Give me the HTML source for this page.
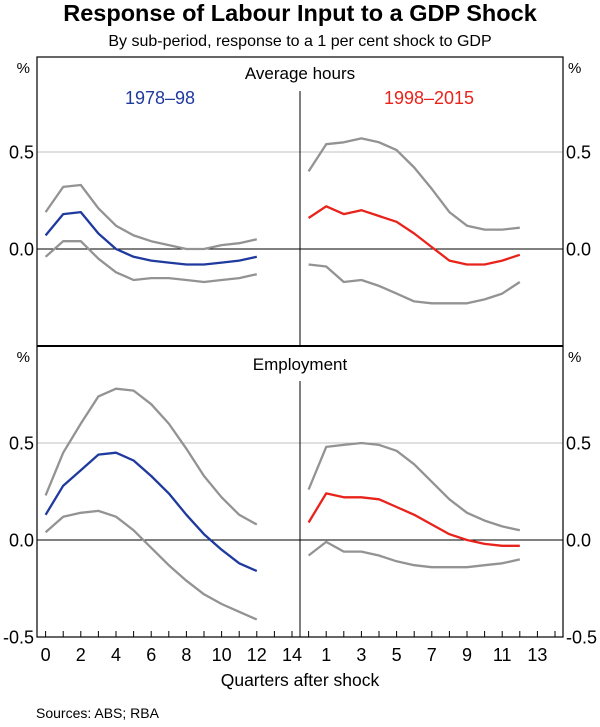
<!DOCTYPE html>
<html><head><meta charset="utf-8"><style>
body{margin:0;background:#fff;font-family:"Liberation Sans",Arial,sans-serif}
svg text{font-family:"Liberation Sans",Arial,sans-serif}
</style></head><body>
<svg id="c" width="600" height="722" viewBox="0 0 600 722">
<text x="300" y="21" text-anchor="middle" font-size="23.5" font-weight="bold">Response of Labour Input to a GDP Shock</text>
<text x="300" y="46" text-anchor="middle" font-size="16">By sub-period, response to a 1 per cent shock to GDP</text>
<g id="g"></g>
<text x="300" y="686" text-anchor="middle" font-size="17.5">Quarters after shock</text>
<text x="36" y="718" font-size="14">Sources:  ABS; RBA</text>
</svg>
<script>
const quarters=[0,1,2,3,4,5,6,7,8,9,10,11,12];
const hoursEarly=[0.07,0.18,0.19,0.08,0.0,-0.04,-0.06,-0.07,-0.08,-0.08,-0.07,-0.06,-0.04];
const hoursEarlyUp=[0.19,0.32,0.33,0.21,0.12,0.07,0.04,0.02,0.0,0.0,0.02,0.03,0.05];
const hoursEarlyLo=[-0.04,0.04,0.04,-0.05,-0.12,-0.16,-0.15,-0.15,-0.16,-0.17,-0.16,-0.15,-0.13];
const hoursLate=[0.16,0.22,0.18,0.20,0.17,0.14,0.08,0.01,-0.06,-0.08,-0.08,-0.06,-0.03];
const hoursLateUp=[0.40,0.54,0.55,0.57,0.55,0.51,0.42,0.31,0.19,0.12,0.10,0.10,0.11];
const hoursLateLo=[-0.08,-0.09,-0.17,-0.16,-0.19,-0.23,-0.27,-0.28,-0.28,-0.28,-0.26,-0.23,-0.17];
const empEarly=[0.13,0.28,0.36,0.44,0.45,0.41,0.33,0.24,0.13,0.03,-0.05,-0.12,-0.16];
const empEarlyUp=[0.23,0.45,0.60,0.74,0.78,0.77,0.70,0.60,0.47,0.33,0.22,0.13,0.08];
const empEarlyLo=[0.04,0.12,0.14,0.15,0.12,0.05,-0.04,-0.13,-0.21,-0.28,-0.33,-0.37,-0.41];
const empLate=[0.09,0.24,0.22,0.22,0.21,0.17,0.13,0.08,0.03,0.0,-0.02,-0.03,-0.03];
const empLateUp=[0.26,0.48,0.49,0.50,0.49,0.46,0.39,0.30,0.21,0.14,0.10,0.07,0.05];
const empLateLo=[-0.08,-0.01,-0.06,-0.06,-0.08,-0.11,-0.13,-0.14,-0.14,-0.14,-0.13,-0.12,-0.10];
const yTicks=[0.5,0.0];
const yTickLabels=["0.5","0.0"];
const leftXLabels=[0,2,4,6,8,10,12,14];
const rightXLabels=[1,3,5,7,9,11,13];

const NS="http://www.w3.org/2000/svg",G=document.getElementById('g');
function mk(t,a,p){const e=document.createElementNS(NS,t);for(const k in a)e.setAttribute(k,a[k]);(p||G).appendChild(e);return e;}
const L=37,M=300,R=563,UNIT=17.6,FS=18;
function xs(half,q){return (half?M:L)+8.6+q*UNIT;}
function ys(panel,v){const z=panel?540:249;return z-v*194;}
[0,1].forEach(p=>{
 yTicks.forEach((t,i)=>{
  const l=mk('line',{x1:L,x2:R,y1:ys(p,t),y2:ys(p,t),stroke:t===0?'#000':'#c0c0c0','stroke-width':1});
  
  
  [[L-3,'end'],[R+3,'start']].forEach(([x,a])=>{
   const tx=mk('text',{x:x,y:ys(p,t)+6.5,'text-anchor':a,'font-size':FS});tx.textContent=yTickLabels[i];
   
   
  });
 });
 [[L-7,'end'],[R+5,'start']].forEach(([x,a])=>{
  const tx=mk('text',{x:x,y:(p?346:57)+16,'text-anchor':a,'font-size':15});tx.textContent='%';
  
  
 });
});
[[637,'-0.5']].forEach(([y,s])=>{
 [[L-3,'end'],[R+3,'start']].forEach(([x,a])=>{const tx=mk('text',{x:x,y:y+6.5,'text-anchor':a,'font-size':FS});tx.textContent=s;
  
  });
});
const fr=mk('rect',{x:L,y:57,width:R-L,height:580,fill:'none',stroke:'#000','stroke-width':1.2});


const dv=mk('line',{x1:L,x2:R,y1:346,y2:346,stroke:'#000','stroke-width':2});


[[91,346],[381,637]].forEach(([a,b])=>{const v=mk('line',{x1:M,x2:M,y1:a,y2:b,stroke:'#000','stroke-width':1});
 
 });
[['Average hours',79,'panel-title-hours'],['Employment',370,'panel-title-employment']].forEach(([s,y,n])=>{
 const t=mk('text',{x:300,y:y,'text-anchor':'middle','font-size':17});t.textContent=s;
 
 });
const l1=mk('text',{x:160,y:104,'text-anchor':'middle','font-size':18,fill:'#1f3a9e'});l1.textContent='1978–98';


const l2=mk('text',{x:429,y:104,'text-anchor':'middle','font-size':18,fill:'#e8231b'});l2.textContent='1998–2015';


for(let h=0;h<2;h++){for(let q=0;q<=14;q++){const x=xs(h,q);if(x>=M-1&&h===0)continue;if(x>R-2)continue;
 const tk=mk('line',{x1:x,x2:x,y1:637,y2:631,stroke:'#000'});
 
 }}
leftXLabels.forEach(q=>{const t=mk('text',{x:xs(0,q),y:661,'text-anchor':'middle','font-size':FS});t.textContent=q;
 
 });
rightXLabels.forEach(q=>{const t=mk('text',{x:xs(1,q),y:661,'text-anchor':'middle','font-size':FS});t.textContent=q;
 
 });
function line(panel,half,vals,col,name){
 const d=vals.map((v,i)=>(i?'L':'M')+xs(half,quarters[i]).toFixed(1)+','+ys(panel,v).toFixed(1)).join('');
 const p=mk('path',{d:d,fill:'none',stroke:col,'stroke-width':2.3,'stroke-linejoin':'round'});
 
 
}
const GR='#939393',BL='#1f3a9e',RD='#e8231b';
line(0,0,hoursEarlyUp,GR,'hours-1978-upper-band');line(0,0,hoursEarlyLo,GR,'hours-1978-lower-band');line(0,0,hoursEarly,BL,'hours-1978-line');
line(0,1,hoursLateUp,GR,'hours-1998-upper-band');line(0,1,hoursLateLo,GR,'hours-1998-lower-band');line(0,1,hoursLate,RD,'hours-1998-line');
line(1,0,empEarlyUp,GR,'employment-1978-upper-band');line(1,0,empEarlyLo,GR,'employment-1978-lower-band');line(1,0,empEarly,BL,'employment-1978-line');
line(1,1,empLateUp,GR,'employment-1998-upper-band');line(1,1,empLateLo,GR,'employment-1998-lower-band');line(1,1,empLate,RD,'employment-1998-line');
</script>
</body></html>
